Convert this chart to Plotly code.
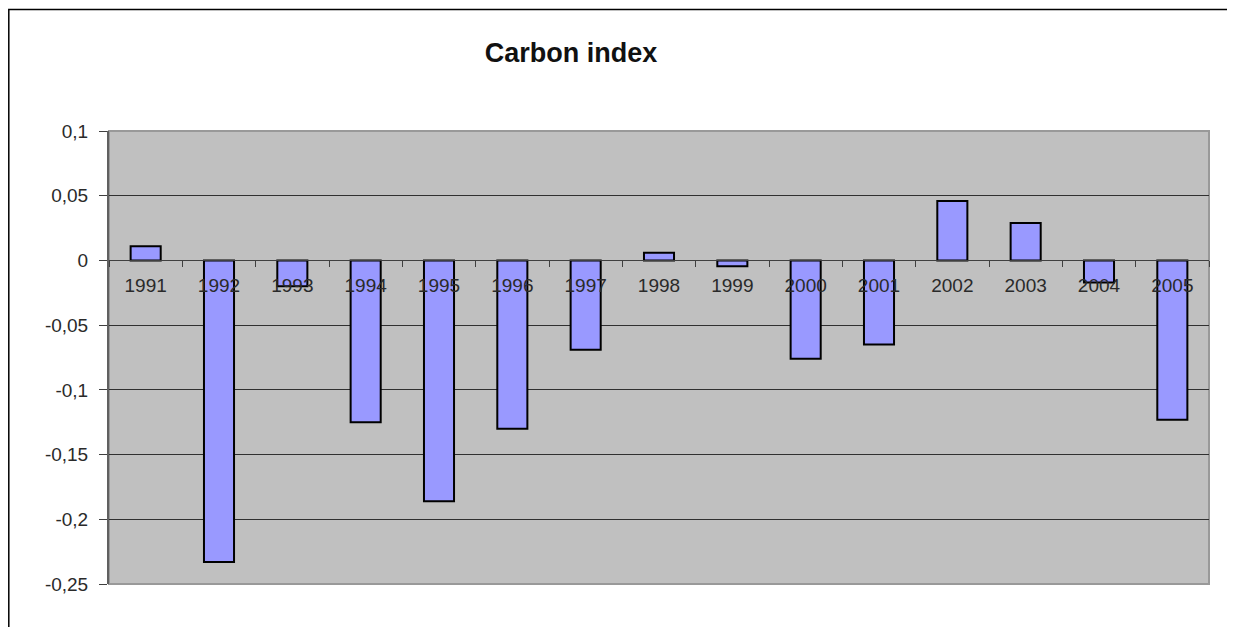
import plotly.graph_objects as go

years = ["1991", "1992", "1993", "1994", "1995", "1996", "1997", "1998",
         "1999", "2000", "2001", "2002", "2003", "2004", "2005"]
carbon_index = [0.011, -0.233, -0.02, -0.125, -0.186, -0.130, -0.069, 0.006,
                -0.0045, -0.076, -0.065, 0.046, 0.029, -0.017, -0.123]
y_tickvals = [0.1, 0.05, 0, -0.05, -0.1, -0.15, -0.2, -0.25]
y_ticktext = ["0,1", "0,05", "0", "-0,05", "-0,1", "-0,15", "-0,2", "-0,25"]
title_text = "Carbon index"

# page has an 8px body margin; figure coordinates = page - 8
W, H = 1227, 619
L, R, T, B = 101, 1201, 122.5, 576.5

fig = go.Figure()
fig.add_trace(go.Bar(
    x=years, y=carbon_index,
    marker=dict(color="#9999FF", line=dict(color="#000000", width=2)),
    width=0.41,
))

ymin, ymax = -0.25, 0.1
fig.update_layout(
    width=W, height=H,
    margin=dict(l=L, r=W - R, t=T, b=H - B, pad=0),
    paper_bgcolor="#FFFFFF",
    plot_bgcolor="#C0C0C0",
    showlegend=False,
    font=dict(family="Liberation Sans, Arial, sans-serif", size=19, color="#2a2a2a"),
    title=dict(text="<b>" + title_text + "</b>", x=(571 - 8) / W, xref="container",
               xanchor="center", y=1 - (53 - 8) / H, yref="container", yanchor="middle",
               font=dict(size=27, color="#111111")),
    xaxis=dict(
        type="category",
        anchor="free",
        position=(0 - ymin) / (ymax - ymin),
        showline=True, linecolor="#404040", linewidth=1,
        ticks="outside", ticklen=6, tickcolor="#404040", tickwidth=1,
        tickson="boundaries",
        showgrid=False, zeroline=False,
        tickfont=dict(size=19, color="#2a2a2a"),
        ticklabelstandoff=8,
        layer="above traces",
        fixedrange=True,
    ),
    yaxis=dict(
        range=[ymin, ymax],
        tickvals=y_tickvals, ticktext=y_ticktext,
        showline=True, linecolor="#606060", linewidth=2,
        ticks="outside", ticklen=8, tickcolor="#404040", tickwidth=1,
        showgrid=True, gridcolor="#303030", gridwidth=1,
        zeroline=False,
        tickfont=dict(size=19, color="#2a2a2a"),
        ticklabelstandoff=7,
        fixedrange=True,
    ),
)

# plot-area border (gray)
fig.add_shape(type="rect", xref="paper", yref="paper", x0=0, x1=1, y0=0, y1=1,
              line=dict(color="#999999", width=2), layer="below")

# outer chart frame
fx0 = (0.8 - L) / (R - L)
fx1 = (1220 - L) / (R - L)
fy1 = (B - 0.8) / (B - T)
fy0 = (B - 640) / (B - T)
fig.add_shape(type="rect", xref="paper", yref="paper", x0=fx0, x1=fx1, y0=fy0, y1=fy1,
              line=dict(color="#000000", width=1.5), layer="below")

fig.write_html("out.html")
